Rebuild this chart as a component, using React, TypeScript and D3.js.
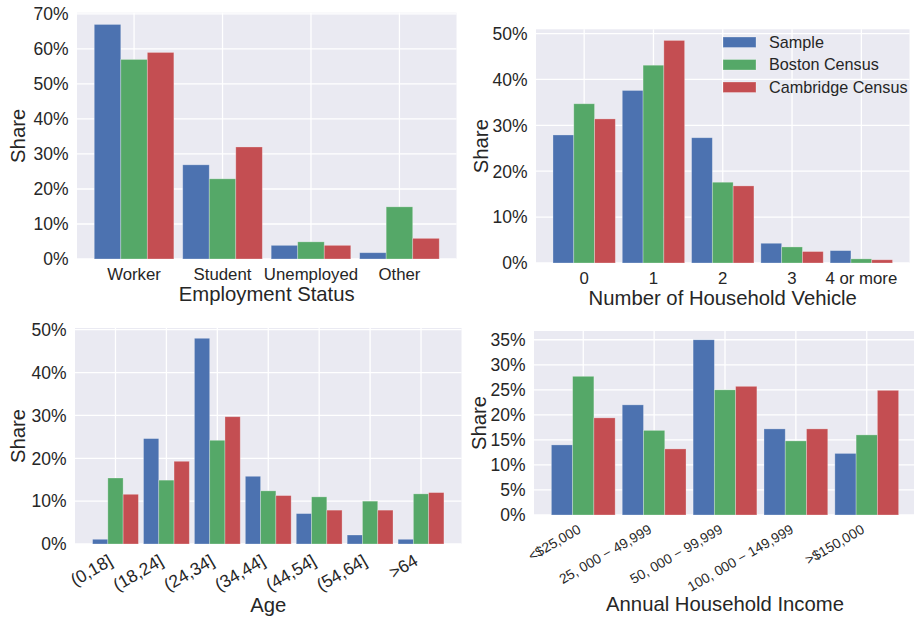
import React, { useEffect, useRef } from 'react';
import * as d3 from 'd3';

// --- data (percent shares) ---
const seriesNames = ['Sample', 'Boston Census', 'Cambridge Census'];
const seriesColors = ['#4C72B0', '#55A868', '#C44E52'];

const employmentCats = ['Worker', 'Student', 'Unemployed', 'Other'];
const employmentSample = [67.0, 26.9, 3.9, 1.8];
const employmentBoston = [57.0, 22.9, 4.9, 14.9];
const employmentCambridge = [59.0, 32.0, 3.9, 5.9];
const employmentTicks = [0, 10, 20, 30, 40, 50, 60, 70];

const vehicleCats = ['0', '1', '2', '3', '4 or more'];
const vehicleSample = [27.9, 37.6, 27.3, 4.3, 2.7];
const vehicleBoston = [34.7, 43.1, 17.6, 3.5, 0.9];
const vehicleCambridge = [31.4, 48.5, 16.8, 2.5, 0.7];
const vehicleTicks = [0, 10, 20, 30, 40, 50];

const ageCats = ['(0,18]', '(18,24]', '(24,34]', '(34,44]', '(44,54]', '(54,64]', '>64'];
const ageSample = [1.1, 24.6, 48.0, 15.8, 7.1, 2.1, 1.1];
const ageBoston = [15.4, 14.9, 24.2, 12.4, 11.0, 10.0, 11.7];
const ageCambridge = [11.6, 19.3, 29.7, 11.3, 7.9, 7.9, 12.0];
const ageTicks = [0, 10, 20, 30, 40, 50];

const incomeCats = ['<$25,000', '25, 000 \u2212 49,999', '50, 000 \u2212 99,999', '100, 000 \u2212 149,999', '>$150,000'];
const incomeSample = [14.0, 22.0, 35.0, 17.2, 12.3];
const incomeBoston = [27.7, 16.9, 25.0, 14.8, 16.0];
const incomeCambridge = [19.4, 13.2, 25.7, 17.2, 24.9];
const incomeTicks = [0, 5, 10, 15, 20, 25, 30, 35];

const FONT = '"Liberation Sans", Arial, sans-serif';
const TEXT = '#262626';

interface Panel {
  cats: string[];
  series: number[][];
  ticks: number[];
  box: { left: number; right: number; top: number; bottom: number };
  xLabel: string;
  xLabelY: number;
  yLabelX: number;
  rotate?: number; // tick label font size when rotated
  legend?: boolean;
}

const panels: Panel[] = [
  {
    cats: employmentCats,
    series: [employmentSample, employmentBoston, employmentCambridge],
    ticks: employmentTicks,
    box: { left: 77, right: 456.5, top: 12.7, bottom: 259 },
    xLabel: 'Employment Status',
    xLabelY: 300.5,
    yLabelX: 25,
  },
  {
    cats: vehicleCats,
    series: [vehicleSample, vehicleBoston, vehicleCambridge],
    ticks: vehicleTicks,
    box: { left: 536, right: 909.5, top: 29.3, bottom: 263 },
    xLabel: 'Number of Household Vehicle',
    xLabelY: 304.5,
    yLabelX: 488,
    legend: true,
  },
  {
    cats: ageCats,
    series: [ageSample, ageBoston, ageCambridge],
    ticks: ageTicks,
    box: { left: 75, right: 461.5, top: 328, bottom: 544 },
    xLabel: 'Age',
    xLabelY: 612,
    yLabelX: 25,
    rotate: 17.5,
  },
  {
    cats: incomeCats,
    series: [incomeSample, incomeBoston, incomeCambridge],
    ticks: incomeTicks,
    box: { left: 534, right: 916, top: 331, bottom: 515 },
    xLabel: 'Annual Household Income',
    xLabelY: 611,
    yLabelX: 486,
    rotate: 13.8,
  },
];

const App: React.FC = () => {
  const svgRef = useRef<SVGSVGElement | null>(null);

  useEffect(() => {
    if (!svgRef.current) return;
    const svg = d3.select(svgRef.current);
    svg.selectAll('*').remove();

    const barW = 0.3;

    panels.forEach((p) => {
      const n = p.cats.length;
      const span = n - 0.1;
      const x = d3.scaleLinear()
        .domain([-0.45 - 0.05 * span, n - 1 + 0.45 + 0.05 * span])
        .range([p.box.left, p.box.right]);
      const maxVal = d3.max(p.series, s => d3.max(s)) as number;
      const y = d3.scaleLinear()
        .domain([0, maxVal * 1.05])
        .range([p.box.bottom, p.box.top]);

      const g = svg.append('g');

      // background
      g.append('rect')
        .attr('x', p.box.left)
        .attr('y', p.box.top)
        .attr('width', p.box.right - p.box.left)
        .attr('height', p.box.bottom - p.box.top)
        .attr('fill', '#EAEAF2');

      // grid
      g.selectAll('line.h')
        .data(p.ticks)
        .join('line')
        .attr('x1', p.box.left)
        .attr('x2', p.box.right)
        .attr('y1', d => y(d))
        .attr('y2', d => y(d))
        .attr('stroke', 'white')
        .attr('stroke-width', 1.3);

      g.selectAll('line.v')
        .data(d3.range(n))
        .join('line')
        .attr('x1', d => x(d))
        .attr('x2', d => x(d))
        .attr('y1', p.box.top)
        .attr('y2', p.box.bottom)
        .attr('stroke', 'white')
        .attr('stroke-width', 1.3);

      // bars
      p.series.forEach((vals, si) => {
        g.append('g')
          .selectAll('rect')
          .data(vals)
          .join('rect')
          .attr('x', (d, i) => x(i + (si - 1) * barW - barW / 2))
          .attr('width', x(barW) - x(0))
          .attr('y', d => y(d))
          .attr('height', d => y(0) - y(d))
          .attr('fill', seriesColors[si])
          .attr('stroke', 'white')
          .attr('stroke-opacity', 0.35)
          .attr('stroke-width', 0.8);
      });

      // y tick labels
      g.selectAll('text.yt')
        .data(p.ticks)
        .join('text')
        .attr('x', p.box.left - 8.5)
        .attr('y', d => y(d))
        .attr('dy', '0.36em')
        .attr('text-anchor', 'end')
        .attr('font-family', FONT)
        .attr('font-size', 17.5)
        .attr('fill', TEXT)
        .text(d => `${d}%`);

      // x tick labels
      if (p.rotate) {
        const fs = p.rotate;
        const h = fs * 1.15;
        g.selectAll('text.xt')
          .data(p.cats)
          .join('text')
          .attr('transform', (d, i) => `translate(${x(i)},${p.box.bottom + 6 + 0.866 * h}) rotate(-30)`)
          .attr('dy', -0.21 * fs)
          .attr('text-anchor', 'end')
          .attr('font-family', FONT)
          .attr('font-size', fs)
          .attr('fill', TEXT)
          .text(d => d);
      } else {
        g.selectAll('text.xt')
          .data(p.cats)
          .join('text')
          .attr('x', (d, i) => x(i))
          .attr('y', p.box.bottom + 20.5)
          .attr('text-anchor', 'middle')
          .attr('font-family', FONT)
          .attr('font-size', 16.8)
          .attr('fill', TEXT)
          .text(d => d);
      }

      // axis labels
      g.append('text')
        .attr('x', (p.box.left + p.box.right) / 2)
        .attr('y', p.xLabelY)
        .attr('text-anchor', 'middle')
        .attr('font-family', FONT)
        .attr('font-size', 20.3)
        .attr('fill', TEXT)
        .text(p.xLabel);

      g.append('text')
        .attr('transform', `translate(${p.yLabelX},${(p.box.top + p.box.bottom) / 2}) rotate(-90)`)
        .attr('text-anchor', 'middle')
        .attr('font-family', FONT)
        .attr('font-size', 20.3)
        .attr('fill', TEXT)
        .text('Share');

      if (p.legend) {
        const lg = g.append('g');
        seriesNames.forEach((name, si) => {
          const cy = 42 + si * 22.5;
          lg.append('rect')
            .attr('x', 723)
            .attr('y', cy - 5)
            .attr('width', 33)
            .attr('height', 10.5)
            .attr('fill', seriesColors[si])
            .attr('stroke', 'white')
            .attr('stroke-opacity', 0.35)
            .attr('stroke-width', 0.8);
          lg.append('text')
            .attr('x', 769)
            .attr('y', cy)
            .attr('dy', '0.36em')
            .attr('font-family', FONT)
            .attr('font-size', 16.2)
            .attr('fill', TEXT)
            .text(name);
        });
      }
    });
  }, []);

  return (
    <div style={{ position: 'absolute', left: 0, top: 0 }}>
      <svg ref={svgRef} width={914} height={619} style={{ display: 'block', background: 'white' }} />
    </div>
  );
};

export default App;
